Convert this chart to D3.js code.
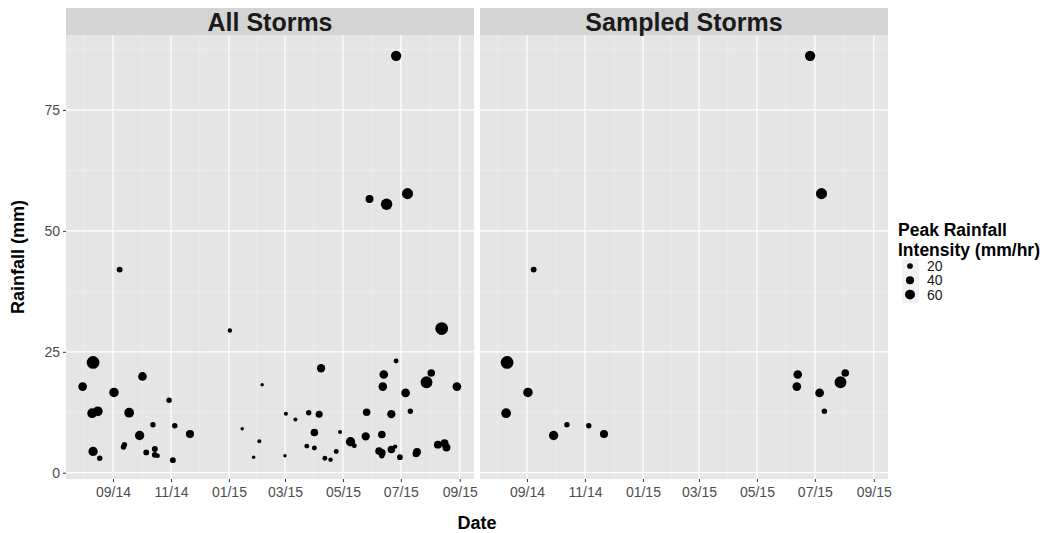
<!DOCTYPE html>
<html>
<head>
<meta charset="utf-8">
<script src="https://cdn.jsdelivr.net/npm/d3@7"></script>
<style>
  body { margin: 0; background: #fff; }
  svg { font-family: "Liberation Sans", Arial, sans-serif; }
</style>
</head>
<body>
<svg id="chart" width="1055" height="533"></svg>
<script>
// storm data
const stormDates = [
  '2014-07-31', '2014-08-10', '2014-08-11', '2014-08-11', '2014-08-16', '2014-08-18',
  '2014-09-02', '2014-09-08', '2014-09-12', '2014-09-13', '2014-09-18', '2014-09-29',
  '2014-10-02', '2014-10-06', '2014-10-13', '2014-10-15', '2014-10-15', '2014-10-18',
  '2014-10-30', '2014-11-03', '2014-11-05', '2014-11-21', '2015-01-02', '2015-01-15',
  '2015-01-27', '2015-02-02', '2015-02-05', '2015-03-01', '2015-03-02', '2015-03-12',
  '2015-03-24', '2015-03-26', '2015-04-01', '2015-04-01', '2015-04-06', '2015-04-08',
  '2015-04-12', '2015-04-18', '2015-04-24', '2015-04-28', '2015-05-09', '2015-05-13',
  '2015-05-25', '2015-05-26', '2015-05-29', '2015-06-08', '2015-06-11', '2015-06-11',
  '2015-06-11', '2015-06-12', '2015-06-13', '2015-06-16', '2015-06-21', '2015-06-21',
  '2015-06-25', '2015-06-26', '2015-06-26', '2015-06-30', '2015-07-06', '2015-07-08',
  '2015-07-11', '2015-07-18', '2015-07-17', '2015-07-28', '2015-08-02', '2015-08-09',
  '2015-08-13', '2015-08-16', '2015-08-18', '2015-08-29'
];
const rainfall = [
  17.8, 12.3, 22.8, 4.4, 12.7, 3.0,
  16.6, 42.0, 5.3, 5.8, 12.4, 7.7,
  19.9, 4.2, 9.9, 4.9, 3.7, 3.5,
  15.0, 2.6, 9.7, 8.0, 29.4, 9.1,
  3.2, 6.5, 18.2, 3.5, 12.2, 11.0,
  5.5, 12.4, 8.3, 5.1, 12.1, 21.6,
  3.0, 2.7, 4.4, 8.4, 6.4, 5.6,
  7.5, 12.5, 56.6, 4.5, 4.1, 7.9,
  3.5, 17.8, 20.3, 55.5, 12.1, 4.8,
  5.4, 23.1, 86.2, 3.2, 16.5, 57.7,
  12.7, 4.3, 3.9, 18.7, 20.6, 5.8,
  29.8, 6.1, 5.2, 17.8
];
const peakIntensity = [
  46, 58, 100, 53, 58, 18,
  55, 21, 18, 18, 58, 53,
  46, 21, 18, 21, 21, 12,
  18, 21, 18, 40, 12, 7,
  7, 10, 7, 7, 10, 10,
  15, 18, 35, 15, 30, 42,
  15, 12, 15, 10, 53, 15,
  42, 35, 38, 35, 35, 35,
  18, 46, 46, 80, 42, 35,
  12, 15, 65, 20, 46, 75,
  18, 38, 30, 85, 35, 38,
  100, 38, 38, 46
];
const sampled = [
  0, 1, 1, 0, 0, 0,
  1, 1, 0, 0, 0, 1,
  0, 0, 1, 0, 0, 0,
  0, 0, 1, 1, 0, 0,
  0, 0, 0, 0, 0, 0,
  0, 0, 0, 0, 0, 0,
  0, 0, 0, 0, 0, 0,
  0, 0, 0, 0, 0, 0,
  0, 1, 1, 0, 0, 0,
  0, 0, 1, 0, 1, 1,
  1, 0, 0, 1, 1, 0,
  0, 0, 0, 0
];
const panelTitles = ['All Storms', 'Sampled Storms'];
const yTicks = [0, 25, 50, 75];
const yMinor = [12.5, 37.5, 62.5, 87.5];
const legendValues = [20, 40, 60];

const parse = d3.timeParse('%Y-%m-%d');
const storms = stormDates.map((d, i) => ({
  date: parse(d),
  rain: rainfall[i],
  peak: peakIntensity[i],
  sampled: sampled[i] === 1
}));

const svg = d3.select('#chart');
const panelW = 408, panelTop = 35, panelBottom = 479, stripTop = 8;
const panelX = [66, 480];

const x = d3.scaleTime()
  .domain([new Date(2014, 6, 13, 12), new Date(2015, 8, 16)])
  .range([0, panelW]);
const y = d3.scaleLinear().domain([-1.3, 90.5]).range([panelBottom, panelTop]);
const r = d3.scaleSqrt().domain([0, 100]).range([0, 6.4]);

const majorTicks = d3.timeMonth.every(2).range(new Date(2014, 6, 1), new Date(2015, 10, 2));
const xMajor = majorTicks.filter(d => x(d) >= 0 && x(d) <= panelW);
const xMinor = d3.pairs(majorTicks)
  .map(([a, b]) => new Date((+a + +b) / 2))
  .filter(d => x(d) >= 0 && x(d) <= panelW);

panelTitles.forEach((title, p) => {
  const g = svg.append('g').attr('transform', `translate(${panelX[p]},0)`);
  const pts = p === 0 ? storms : storms.filter(d => d.sampled);

  g.append('rect')
    .attr('x', 0).attr('y', panelTop)
    .attr('width', panelW).attr('height', panelBottom - panelTop)
    .attr('fill', '#e5e5e5');

  // minor grid
  g.selectAll('.vminor').data(xMinor).join('line')
    .attr('x1', d => x(d)).attr('x2', d => x(d))
    .attr('y1', panelTop).attr('y2', panelBottom)
    .attr('stroke', '#f2f2f2').attr('stroke-width', 0.6);
  g.selectAll('.hminor').data(yMinor).join('line')
    .attr('x1', 0).attr('x2', panelW)
    .attr('y1', d => y(d)).attr('y2', d => y(d))
    .attr('stroke', '#f2f2f2').attr('stroke-width', 0.6);

  // major grid
  g.selectAll('.vmajor').data(xMajor).join('line')
    .attr('x1', d => x(d)).attr('x2', d => x(d))
    .attr('y1', panelTop).attr('y2', panelBottom)
    .attr('stroke', '#fff').attr('stroke-width', 1.2);
  g.selectAll('.hmajor').data(yTicks).join('line')
    .attr('x1', 0).attr('x2', panelW)
    .attr('y1', d => y(d)).attr('y2', d => y(d))
    .attr('stroke', '#fff').attr('stroke-width', 1.2);

  // strip
  g.append('rect')
    .attr('x', 0).attr('y', stripTop)
    .attr('width', panelW).attr('height', panelTop - stripTop)
    .attr('fill', '#d4d4d4');
  g.append('text')
    .attr('x', panelW / 2).attr('y', stripTop + 23)
    .attr('text-anchor', 'middle')
    .style('font-size', '25px').style('font-weight', 'bold')
    .attr('fill', '#1a1a1a')
    .text(title);

  // x axis
  const xAxis = g.append('g')
    .attr('transform', `translate(0,${panelBottom})`)
    .call(d3.axisBottom(x).tickValues(xMajor).tickFormat(d3.timeFormat('%m/%y'))
      .tickSize(3).tickPadding(5));
  xAxis.select('.domain').remove();
  xAxis.selectAll('line').attr('stroke', '#333');
  xAxis.selectAll('text')
    .attr('fill', '#4d4d4d')
    .style('font-size', '14px')
    .style('font-family', '"Liberation Sans", Arial, sans-serif');

  // points
  g.selectAll('circle').data(pts).join('circle')
    .attr('cx', d => x(d.date))
    .attr('cy', d => y(d.rain))
    .attr('r', d => r(d.peak))
    .attr('fill', '#000');
});

// y axis
const yAxis = svg.append('g')
  .attr('transform', `translate(${panelX[0]},0)`)
  .call(d3.axisLeft(y).tickValues(yTicks).tickSize(3).tickPadding(3));
yAxis.select('.domain').remove();
yAxis.selectAll('line').attr('stroke', '#333');
yAxis.selectAll('text')
  .attr('fill', '#4d4d4d')
  .style('font-size', '14px')
  .style('font-family', '"Liberation Sans", Arial, sans-serif');

// axis titles
svg.append('text')
  .attr('transform', `translate(24,${(panelTop + panelBottom) / 2}) rotate(-90)`)
  .attr('text-anchor', 'middle')
  .style('font-size', '18px').style('font-weight', 'bold')
  .text('Rainfall (mm)');
svg.append('text')
  .attr('x', (panelX[0] + panelX[1] + panelW) / 2).attr('y', 529)
  .attr('text-anchor', 'middle')
  .style('font-size', '18px').style('font-weight', 'bold')
  .text('Date');

// legend
const legend = svg.append('g').attr('transform', 'translate(898,0)');
legend.append('text').attr('x', 0).attr('y', 236)
  .style('font-size', '17.5px').style('font-weight', 'bold')
  .text('Peak Rainfall');
legend.append('text').attr('x', 0).attr('y', 256)
  .style('font-size', '17.5px').style('font-weight', 'bold')
  .text('Intensity (mm/hr)');
legend.append('rect')
  .attr('x', 4).attr('y', 259).attr('width', 17).attr('height', 44)
  .attr('fill', '#f2f2f2');
const rows = legend.selectAll('.key').data(legendValues).join('g')
  .attr('transform', (d, i) => `translate(12,${266 + i * 14.3})`);
rows.append('circle').attr('r', d => r(d)).attr('fill', '#000');
rows.append('text')
  .attr('x', 17).attr('y', 5)
  .style('font-size', '14px')
  .attr('fill', '#1a1a1a')
  .text(d => d);
</script>
</body>
</html>
